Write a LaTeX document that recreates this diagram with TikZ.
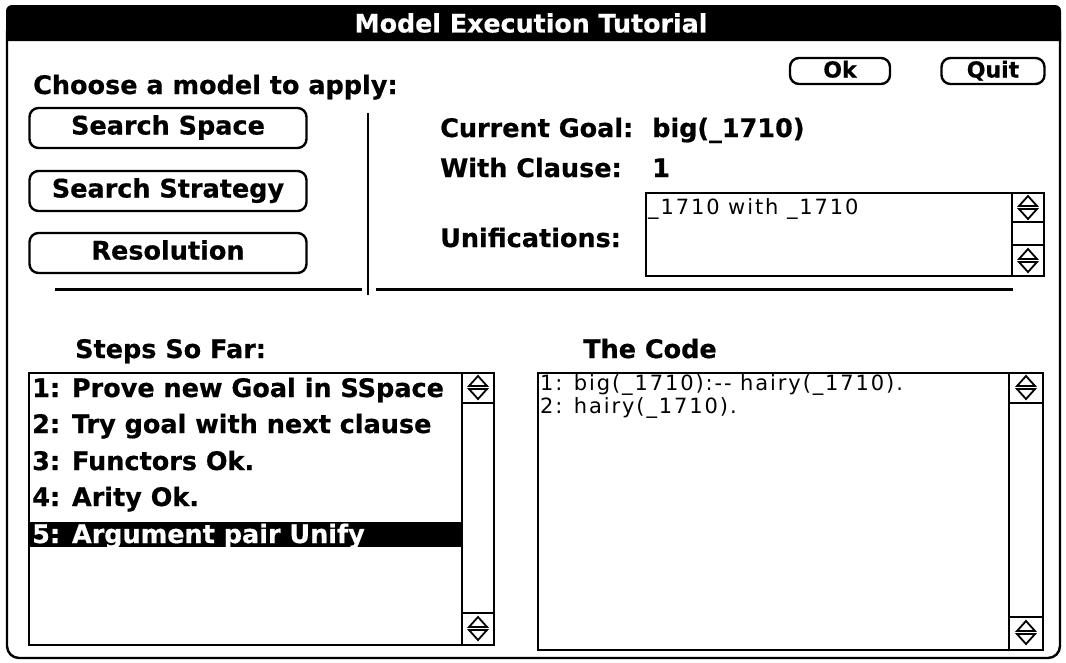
\documentclass[tikz,border=0pt]{standalone}
\usepackage{fontspec}
\setmainfont{DejaVu Sans}
\newfontfamily\uifont[FakeBold=0.6]{DejaVu Sans Bold}
\newcommand\myscrollarrow[2]{%
  \draw[line width=1.8pt, line join=miter] ({#1-9},{#2+14}) -- (#1,{#2+4}) -- ({#1+9},{#2+14}) -- cycle;
  \draw[line width=1.8pt, line join=miter] ({#1-9},{#2+17}) -- (#1,{#2+27}) -- ({#1+9},{#2+17}) -- cycle;}
\begin{document}
\begin{tikzpicture}[x=1pt,y=-1pt,
  lbl/.style={font=\uifont\fontsize{25.5}{28}\selectfont, inner sep=0pt, anchor=base west},
  codetxt/.style={font=\fontsize{21}{24}\selectfont\addfontfeatures{LetterSpace=9}, inner sep=0pt, anchor=base west},
  btn/.style={draw, line width=2.4pt, rounded corners=9pt, inner sep=0pt, text height=18pt, text depth=5pt,
    font=\uifont\fontsize{25.5}{28}\selectfont},
  frame/.style={draw, line width=2.4pt, inner sep=0pt, anchor=north west},
  rule/.style={line width=3pt},
  thin/.style={line width=2.4pt}]
\useasboundingbox (0,0) rectangle (1066,662);
\fill[white] (0,0) rectangle (1066,662);
% window frame
\draw[line width=2.4pt, rounded corners=12pt] (7,30) -- (7,658) -- (1060,658) -- (1060,30);
\fill[black] (6,41) [rounded corners=6pt] -- (6,5) -- (1061,5) [sharp corners] -- (1061,41) -- cycle;
\node[font=\uifont\fontsize{25.3}{28}\selectfont, text=white, inner sep=0pt] (title) at (531,23) {Model Execution Tutorial};
% top left
\node[lbl] (choose) at (33,94) {Choose a model to apply:};
\node[btn, minimum width=277pt, minimum height=40pt] (sspace) at (168,128) {Search Space};
\node[btn, minimum width=277pt, minimum height=40pt] (sstrat) at (168,191) {Search Strategy};
\node[btn, minimum width=277pt, minimum height=40pt] (resol) at (168,253) {Resolution};
% Ok / Quit
\node[btn, minimum width=100pt, minimum height=26pt, text height=15pt, text depth=2pt,
  font=\uifont\fontsize{22}{24}\selectfont] (ok) at (840,71) {Ok};
\node[btn, minimum width=103pt, minimum height=26pt, text height=15pt, text depth=2pt,
  font=\uifont\fontsize{22}{24}\selectfont] (quit) at (993,71) {Quit};
% goal info
\node[lbl] (goal) at (440,137) {Current Goal:};
\node[lbl] (goalv) at (652,137) {big(\_1710)};
\node[lbl] (clause) at (440,177) {With Clause:};
\node[lbl] (clausev) at (652,177) {1};
\node[lbl] (unif) at (440,247) {Unifications:};
\node[frame, minimum width=398pt, minimum height=83pt] (ubox) at (645,192) {};
\draw[thin] (1012,192) -- (1012,275);
\draw[thin] (1012,222) -- (1043,222);
\draw[thin] (1012,245) -- (1043,245);
\myscrollarrow{1028}{192}
\myscrollarrow{1028}{245}
\node[codetxt] (unifv) at (648,214) {\_1710 with \_1710};
% dividers
\draw[rule] (55,289) -- (362,289);
\draw[rule] (376,289) -- (1013,289);
\draw[line width=2.6pt] (368,113) -- (368,295);
% headings
\node[lbl] (steps) at (75,358) {Steps So Far:};
\node[lbl] (code) at (583,358) {The Code};
% steps box
\node[frame, minimum width=465pt, minimum height=272pt] (sbox) at (28,372) {};
\fill[black] (28,522) rectangle (462,547);
\draw[thin] (462,372) -- (462,644);
\draw[thin] (462,403) -- (493,403);
\draw[thin] (462,613) -- (493,613);
\myscrollarrow{478}{372}
\myscrollarrow{478}{613}
\node[lbl] (s1) at (32,397) {1: Prove new Goal in SSpace};
\node[lbl] (s2) at (32,433) {2: Try goal with next clause};
\node[lbl] (s3) at (32,470) {3: Functors Ok.};
\node[lbl] (s4) at (32,506) {4: Arity Ok.};
\node[lbl, text=white] (s5) at (32,543) {5: Argument pair Unify};
% code box
\node[frame, minimum width=505pt, minimum height=277pt] (cbox) at (537,372) {};
\draw[thin] (1009,372) -- (1009,649);
\draw[thin] (1009,403) -- (1042,403);
\draw[thin] (1009,617) -- (1042,617);
\myscrollarrow{1026}{372}
\myscrollarrow{1026}{617}
\node[codetxt] (c1) at (540,390) {1: big(\_1710):-{}- hairy(\_1710).};
\node[codetxt] (c2) at (540,413) {2: hairy(\_1710).};
\end{tikzpicture}
\end{document}
